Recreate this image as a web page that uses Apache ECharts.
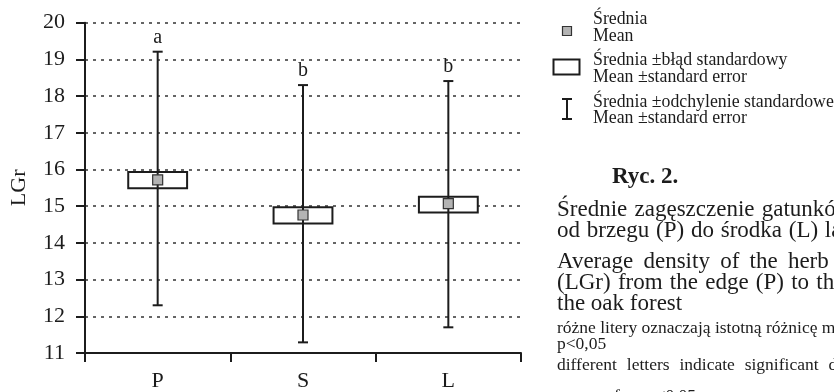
<!DOCTYPE html>
<html><head><meta charset="utf-8">
<script src="https://cdn.jsdelivr.net/npm/echarts@6/dist/echarts.min.js"></script>
<style>html,body{margin:0;padding:0;background:#fff}#c{width:834px;height:392px}</style>
</head><body><div id="c"></div>
<script>
// ---- data ----
const categories = ['P', 'S', 'L'];
const meanValues = [15.72, 14.76, 15.07];
const seLower = [15.49, 14.53, 14.83];
const seUpper = [15.93, 14.97, 15.26];
const sdLower = [12.30, 11.29, 11.70];
const sdUpper = [19.21, 18.30, 18.41];
const groupLetters = ['a', 'b', 'b'];
const yMin = 11, yMax = 20, yStep = 1;
const yAxisName = 'LGr';

// ---- texts ----
const legendTexts = [
  ['Średnia', 'Mean'],
  ['Średnia ±błąd standardowy', 'Mean ±standard error'],
  ['Średnia ±odchylenie standardowe', 'Mean ±standard error']
];
const captionTitle = 'Ryc. 2.';
const captionMain = [
  'Średnie zagęszczenie gatunków',
  'od brzegu (P) do środka (L) lasu',
  'Average density of the herb',
  '(LGr) from the edge (P) to the',
  'the oak forest'
];
const captionNotes = [
  'różne litery oznaczają istotną różnicę między',
  'p<0,05',
  'different letters indicate significant difference',
  'means for p<0,05'
];

const FONT = '"Liberation Serif", "Times New Roman", "DejaVu Serif", serif';
const INK = '#1c1c1c';

const ctx = document.createElement('canvas').getContext('2d');
function wordLine(text, x, y, size, extraGap, bold) {
  const f = (bold ? 'bold ' : '') + size + 'px ' + FONT;
  ctx.font = f;
  const sp = ctx.measureText(' ').width + extraGap;
  let cx = x;
  return text.split(' ').map(w => {
    const el = { type: 'text', x: cx, y: y, silent: true,
      style: { text: w, font: f, fill: INK, align: 'left', verticalAlign: 'middle' } };
    cx += ctx.measureText(w).width + sp;
    return el;
  });
}

const graphics = [];
// legend symbols
graphics.push({ type: 'rect', shape: { x: 562.5, y: 26.5, width: 9, height: 9 },
  style: { fill: '#b3b3b3', stroke: '#333', lineWidth: 1.2 } });
graphics.push({ type: 'rect', shape: { x: 553.5, y: 59.5, width: 26, height: 15 },
  style: { fill: '#fff', stroke: INK, lineWidth: 2 } });
graphics.push({ type: 'line', shape: { x1: 567, y1: 99, x2: 567, y2: 119 }, style: { stroke: INK, lineWidth: 2 } });
graphics.push({ type: 'line', shape: { x1: 562, y1: 99, x2: 572, y2: 99 }, style: { stroke: INK, lineWidth: 2 } });
graphics.push({ type: 'line', shape: { x1: 562, y1: 119, x2: 572, y2: 119 }, style: { stroke: INK, lineWidth: 2 } });
// legend texts
const legendY = [[19, 36], [60, 77], [102, 118]];
legendTexts.forEach((pair, g) => {
  pair.forEach((t, k) => graphics.push(...wordLine(t, 593, legendY[g][k], 17.8, 0, false)));
});
// caption
graphics.push(...wordLine(captionTitle, 612, 177, 23, 0, true));
const mainY = [210, 231, 262, 283, 304];
const mainGap = [1.5, 1, 4.5, 1.5, 0];
captionMain.forEach((t, i) => graphics.push(...wordLine(t, 557, mainY[i], 23, mainGap[i], false)));
const noteY = [328, 344, 365, 396];
const noteGap = [0, 0, 5.5, 8];
captionNotes.forEach((t, i) => graphics.push(...wordLine(t, 557, noteY[i], 17.5, noteGap[i], false)));

const seriesData = categories.map((c, i) =>
  [i, meanValues[i], seLower[i], seUpper[i], sdLower[i], sdUpper[i]]);

function renderItem(params, api) {
  const i = api.value(0);
  const pm = api.coord([i, api.value(1)]);
  const x = pm[0], yMean = pm[1];
  const ySeLo = api.coord([i, api.value(2)])[1];
  const ySeHi = api.coord([i, api.value(3)])[1];
  const ySdLo = api.coord([i, api.value(4)])[1];
  const ySdHi = api.coord([i, api.value(5)])[1];
  const bw = api.size([1, 0])[0] * 0.405;
  const cap = 10, ms = 10;
  const lineStyle = { stroke: INK, lineWidth: 2 };
  return { type: 'group', children: [
    { type: 'rect', shape: { x: x - bw / 2, y: ySeHi, width: bw, height: ySeLo - ySeHi },
      style: { fill: '#fff', stroke: INK, lineWidth: 2 } },
    { type: 'line', shape: { x1: x, y1: ySdHi, x2: x, y2: ySdLo }, style: lineStyle },
    { type: 'line', shape: { x1: x - cap / 2, y1: ySdHi, x2: x + cap / 2, y2: ySdHi }, style: lineStyle },
    { type: 'line', shape: { x1: x - cap / 2, y1: ySdLo, x2: x + cap / 2, y2: ySdLo }, style: lineStyle },
    { type: 'rect', shape: { x: x - ms / 2, y: yMean - ms / 2, width: ms, height: ms },
      style: { fill: '#b3b3b3', stroke: '#333', lineWidth: 1.2 } },
    { type: 'text', x: x, y: ySdHi - 14,
      style: { text: groupLetters[i], font: '20px ' + FONT, fill: INK, align: 'center', verticalAlign: 'middle' } }
  ] };
}

const chart = echarts.init(document.getElementById('c'), null, { renderer: 'canvas' });
chart.setOption({
  animation: false,
  backgroundColor: '#fff',
  grid: { left: 83, right: 313, top: 22.7, bottom: 38.7, containLabel: false },
  xAxis: {
    type: 'category', data: categories, boundaryGap: true,
    axisLine: { lineStyle: { color: INK, width: 2 } },
    axisTick: { show: true, length: 9, alignWithLabel: false, lineStyle: { color: INK, width: 2 } },
    axisLabel: { fontFamily: FONT, fontSize: 22, color: INK, margin: 17 },
    splitLine: { show: false }
  },
  yAxis: {
    type: 'value', min: yMin, max: yMax, interval: yStep,
    name: yAxisName, nameLocation: 'middle', nameGap: 55,
    nameTextStyle: { fontFamily: FONT, fontSize: 22, color: INK },
    axisLine: { show: true, lineStyle: { color: INK, width: 2 } },
    axisTick: { show: true, length: 9, lineStyle: { color: INK, width: 2 } },
    axisLabel: { fontFamily: FONT, fontSize: 22, color: INK, margin: 20 },
    splitLine: { show: true, lineStyle: { type: [3, 5], color: '#333', width: 1.5 } }
  },
  series: [{
    type: 'custom', renderItem: renderItem, data: seriesData, clip: false,
    encode: { x: 0, y: [1, 2, 3, 4, 5] }
  }],
  graphic: graphics
});
</script>
</body></html>
